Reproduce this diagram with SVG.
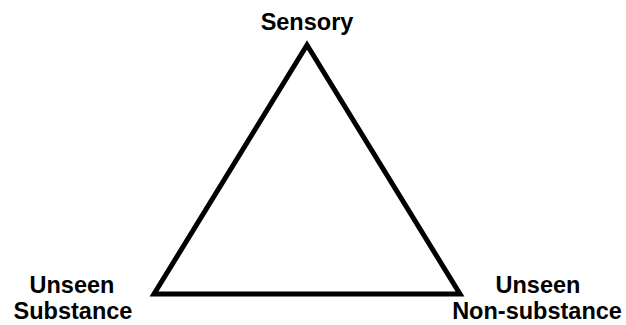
<svg xmlns="http://www.w3.org/2000/svg" width="626" height="325" viewBox="0 0 626 325">
<style>
.lbl{font-family:"Liberation Sans",Arial,sans-serif;font-weight:bold;font-size:23.5px;fill:#000;text-anchor:middle}
.tri{fill:none;stroke:#000;stroke-width:5;stroke-linejoin:miter;stroke-miterlimit:10}
</style>
<rect width="626" height="325" fill="#fff"/>
<g id="connectors">
<path class="tri" d="M307,45 L154,294 L460,294 Z"/>
</g>
<g id="sensory"><text class="lbl" x="307" y="30">Sensory</text></g>
<g id="unseen-substance"><text class="lbl" x="72" y="293">Unseen</text><text class="lbl" x="73" y="319">Substance</text></g>
<g id="unseen-nonsubstance"><text class="lbl" x="538" y="293">Unseen</text><text class="lbl" x="537" y="319">Non-substance</text></g>
</svg>
